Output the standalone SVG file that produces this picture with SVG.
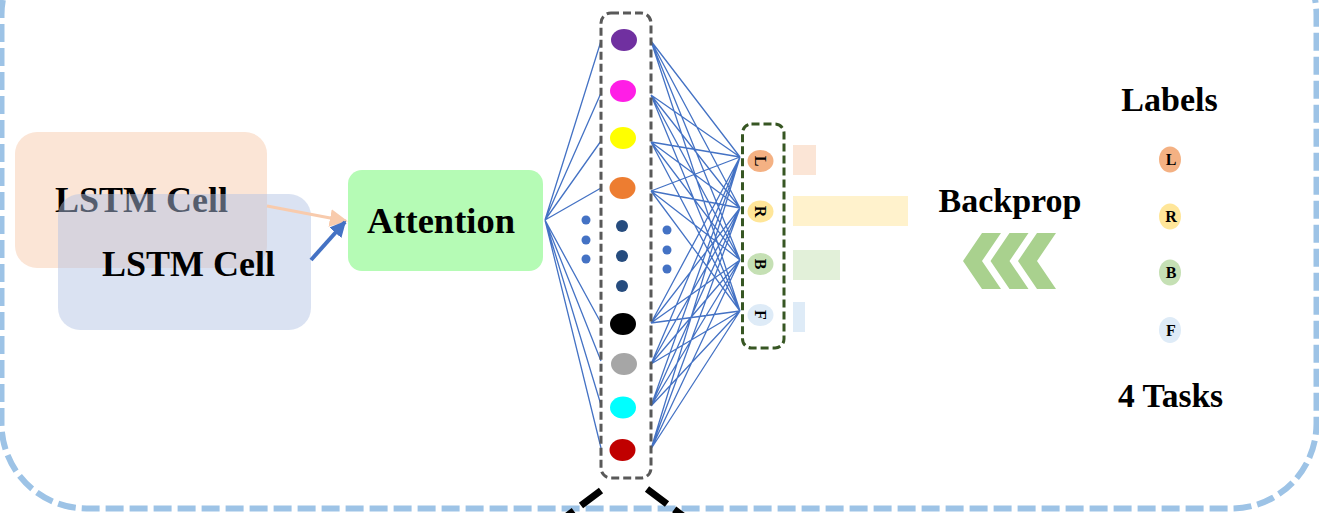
<svg xmlns="http://www.w3.org/2000/svg" width="1319" height="513" viewBox="0 0 1319 513">
<defs>
<style>
.t{font-family:"Liberation Serif","Times New Roman",serif;font-weight:bold;fill:#000}
.ln{stroke:#4472C4;stroke-width:1.3;fill:none}
.sm{font-family:"Liberation Serif","Times New Roman",serif;font-weight:bold;font-size:16px;fill:#000}
</style>
<marker id="ahO" viewBox="0 0 10 10" refX="9" refY="5" markerWidth="6" markerHeight="6" orient="auto" markerUnits="strokeWidth"><path d="M0,0 L10,5 L0,10 z" fill="#F8CBAD"/></marker>
<marker id="ahB" viewBox="0 0 10 10" refX="9" refY="5" markerWidth="4" markerHeight="4" orient="auto" markerUnits="strokeWidth"><path d="M0,0 L10,5 L0,10 z" fill="#4472C4"/></marker>
</defs>
<rect width="1319" height="513" fill="#fff"/>
<g id="frame">
<rect x="1.5" y="-70" width="1315" height="578.5" rx="85" fill="none" stroke="#9DC3E6" stroke-width="6" stroke-dasharray="18 6"/>
<line x1="601" y1="490.5" x2="545" y2="532.5" stroke="#000" stroke-width="7" stroke-dasharray="25 9"/>
<line x1="647" y1="489" x2="703" y2="531" stroke="#000" stroke-width="7" stroke-dasharray="25 9"/>
</g>
<g id="lstm1">
<rect x="15" y="132" width="252" height="136" rx="22" fill="#FBE5D6"/>
<text class="t" x="55" y="212" font-size="36">LSTM Cell</text>
</g>
<g id="lstm2">
<rect x="58" y="194" width="253" height="136" rx="22" fill="#B1C2E3" fill-opacity="0.48"/>
<text class="t" x="102" y="276" font-size="36">LSTM Cell</text>
</g>
<g id="attention">
<rect x="348" y="170" width="195" height="101" rx="14" fill="#B5FBB5"/>
<text class="t" x="441" y="233" font-size="36.5" text-anchor="middle">Attention</text>
</g>
<g id="connectors">
<line x1="267" y1="206" x2="346" y2="221" stroke="#F8CBAD" stroke-width="3" marker-end="url(#ahO)"/>
<line x1="311" y1="260" x2="345" y2="222" stroke="#4472C4" stroke-width="4" marker-end="url(#ahB)"/>
<path class="ln" d="M545,220 L601,41 M545,220 L601,93 M545,220 L601,141 M545,220 L601,188 M545,220 L601,323 M545,220 L601,361 M545,220 L601,405 M545,220 L601,448"/>
<path class="ln" d="M651,41 L740,157 M651,41 L740,208 M651,41 L740,260 M651,41 L740,311
M651,95 L740,157 M651,95 L740,208 M651,95 L740,260 M651,95 L740,311
M651,142 L740,157 M651,142 L740,208 M651,142 L740,260 M651,142 L740,311
M651,191 L740,157 M651,191 L740,208 M651,191 L740,260 M651,191 L740,311
M651,323 L740,157 M651,323 L740,208 M651,323 L740,260 M651,323 L740,311
M651,364 L740,157 M651,364 L740,208 M651,364 L740,260 M651,364 L740,311
M651,406 L740,157 M651,406 L740,208 M651,406 L740,260 M651,406 L740,311
M651,449 L740,157 M651,449 L740,208 M651,449 L740,260 M651,449 L740,311"/>
</g>
<g id="hidden-dots-left" fill="#4472C4">
<circle cx="586" cy="220" r="4.5"/>
<circle cx="586" cy="240" r="4.5"/>
<circle cx="586" cy="259" r="4.5"/>
</g>
<g id="hidden-dots-right" fill="#4472C4">
<circle cx="667" cy="230" r="4.5"/>
<circle cx="667" cy="250" r="4.5"/>
<circle cx="667" cy="269" r="4.5"/>
</g>
<g id="hidden-layer">
<rect x="601" y="13" width="50" height="465" rx="10" fill="none" stroke="#595959" stroke-width="3" stroke-dasharray="8 4"/>
<ellipse cx="624" cy="40" rx="13" ry="11" fill="#7030A0"/>
<ellipse cx="623" cy="91" rx="13" ry="11" fill="#FF1EE6"/>
<ellipse cx="623" cy="138" rx="13" ry="11" fill="#FFFF00"/>
<ellipse cx="622.5" cy="188" rx="13" ry="11" fill="#ED7D31"/>
<circle cx="622" cy="226" r="6" fill="#264C7E"/>
<circle cx="622" cy="256" r="6" fill="#264C7E"/>
<circle cx="622" cy="286" r="6" fill="#264C7E"/>
<ellipse cx="623" cy="324" rx="13" ry="11" fill="#000"/>
<ellipse cx="624" cy="364" rx="13" ry="11" fill="#A6A6A6"/>
<ellipse cx="623" cy="407.5" rx="13" ry="11" fill="#00FFFF"/>
<ellipse cx="622.5" cy="450" rx="13" ry="11" fill="#C00000"/>
</g>
<g id="outputs">
<rect x="742.5" y="124" width="41.5" height="224" rx="9" fill="none" stroke="#375623" stroke-width="3" stroke-dasharray="8 4"/>
<ellipse cx="760.5" cy="161" rx="13" ry="11" fill="#F4B183"/>
<ellipse cx="760.5" cy="211.5" rx="13" ry="11" fill="#FFE699"/>
<ellipse cx="760.5" cy="264" rx="13" ry="11" fill="#C5E0B4"/>
<ellipse cx="760.5" cy="315" rx="13" ry="11" fill="#DEEBF7"/>
<text class="sm" transform="translate(760.5 161) rotate(90)" text-anchor="middle" dy="5.5">L</text>
<text class="sm" transform="translate(760.5 211.5) rotate(90)" text-anchor="middle" dy="5.5">R</text>
<text class="sm" transform="translate(760.5 264) rotate(90)" text-anchor="middle" dy="5.5">B</text>
<text class="sm" transform="translate(760.5 315) rotate(90)" text-anchor="middle" dy="5.5">F</text>
</g>
<g id="bars">
<rect x="793" y="145" width="23" height="30" fill="#FBE5D6"/>
<rect x="793" y="196" width="115" height="30" fill="#FFF2CC"/>
<rect x="793" y="250" width="47" height="30" fill="#E2F0D9"/>
<rect x="793" y="302" width="12" height="30" fill="#DEEBF7"/>
</g>
<g id="backprop">
<text class="t" x="1010" y="212" font-size="34" text-anchor="middle">Backprop</text>
<g fill="#A9D18E">
<polygon points="963,261 982,233 1001,233 982,261 1001,289 982,289"/>
<polygon points="990.5,261 1009.5,233 1028.5,233 1009.5,261 1028.5,289 1009.5,289"/>
<polygon points="1018,261 1037,233 1056,233 1037,261 1056,289 1037,289"/>
</g>
</g>
<g id="labels">
<text class="t" x="1169.5" y="111" font-size="34" text-anchor="middle">Labels</text>
<ellipse cx="1170" cy="159.5" rx="11" ry="13" fill="#F4B183"/>
<ellipse cx="1170" cy="216.5" rx="11" ry="13" fill="#FFE699"/>
<ellipse cx="1170" cy="272.5" rx="11" ry="13" fill="#C5E0B4"/>
<ellipse cx="1170" cy="330" rx="11" ry="13" fill="#DEEBF7"/>
<text class="sm" x="1171" y="165" text-anchor="middle">L</text>
<text class="sm" x="1171" y="222" text-anchor="middle">R</text>
<text class="sm" x="1171" y="278" text-anchor="middle">B</text>
<text class="sm" x="1171" y="335.5" text-anchor="middle">F</text>
<text class="t" x="1170.5" y="407" font-size="33.5" text-anchor="middle">4 Tasks</text>
</g>
</svg>
